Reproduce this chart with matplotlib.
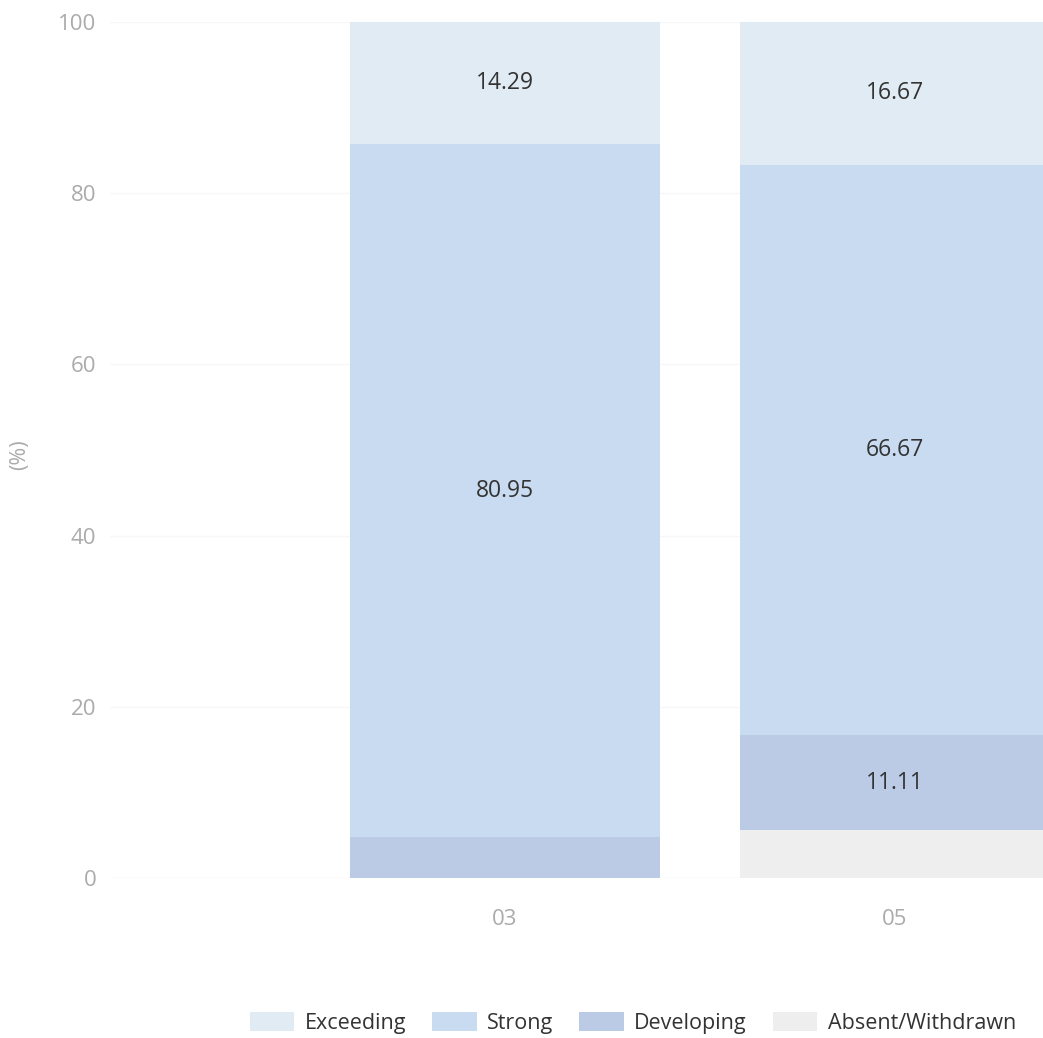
import matplotlib
matplotlib.use("Agg")
import matplotlib.pyplot as plt
from matplotlib.patches import Patch

# Category data (percent of students per band)
groups = ["03", "05"]
exceeding = [14.29, 16.67]
strong = [80.95, 66.67]
developing = [4.76, 11.11]
absent = [0.0, 5.56]

series_names = ["Exceeding", "Strong", "Developing", "Absent/Withdrawn"]
colors = {
    "Exceeding": "#e1ebf3",
    "Strong": "#c8dbf0",
    "Developing": "#bbcae5",
    "Absent/Withdrawn": "#eeeeee",
}

plt.rcParams["font.family"] = ["Open Sans", "DejaVu Sans"]

fig = plt.figure(figsize=(10.43, 10.38), dpi=100)
ax = fig.add_axes([0.1055, 0.1541, 0.8945, 0.8247])

x = list(range(len(groups)))
width = 0.795

# Stack from the bottom: Absent, Developing, Strong, Exceeding
stack = [
    ("Absent/Withdrawn", absent),
    ("Developing", developing),
    ("Strong", strong),
    ("Exceeding", exceeding),
]
bottoms = [0.0] * len(groups)
for name, vals in stack:
    ax.bar(x, vals, width=width, bottom=bottoms, color=colors[name],
           edgecolor="none", zorder=2)
    for i, v in enumerate(vals):
        if v >= 8:
            ax.text(x[i], bottoms[i] + v / 2, f"{v:.2f}", ha="center",
                    va="center", fontsize=16.5, color="#333333", zorder=3)
    bottoms = [b + v for b, v in zip(bottoms, vals)]

ax.set_ylim(0, 100)
ax.set_xlim(-1.013, 1.3795)
ax.set_yticks([0, 20, 40, 60, 80, 100])
ax.set_xticks(x)
ax.set_xticklabels(groups)

ax.grid(axis="y", color="#f7f7f7", linewidth=1.0, zorder=0)
ax.set_axisbelow(True)
for s in ax.spines.values():
    s.set_visible(False)
ax.axhline(0, color="#f4f4f4", linewidth=1.0, zorder=1)

ax.tick_params(axis="both", length=0, labelsize=16, labelcolor="#ababab")
ax.tick_params(axis="y", pad=10)
ax.tick_params(axis="x", pad=22)

fig.text(0.019, 0.562, "(%)", rotation=90, ha="center", va="center",
         fontsize=15.5, color="#ababab")

handles = [Patch(facecolor=colors[n], edgecolor="none") for n in series_names]
fig.legend(handles, series_names, loc="center", bbox_to_anchor=(0.607, 0.0145),
           ncol=4, frameon=False, fontsize=15.5, handlelength=2.05,
           handleheight=1.0, handletextpad=0.5, columnspacing=1.2,
           labelcolor="#333333")

fig.savefig("out.png", dpi=100)
